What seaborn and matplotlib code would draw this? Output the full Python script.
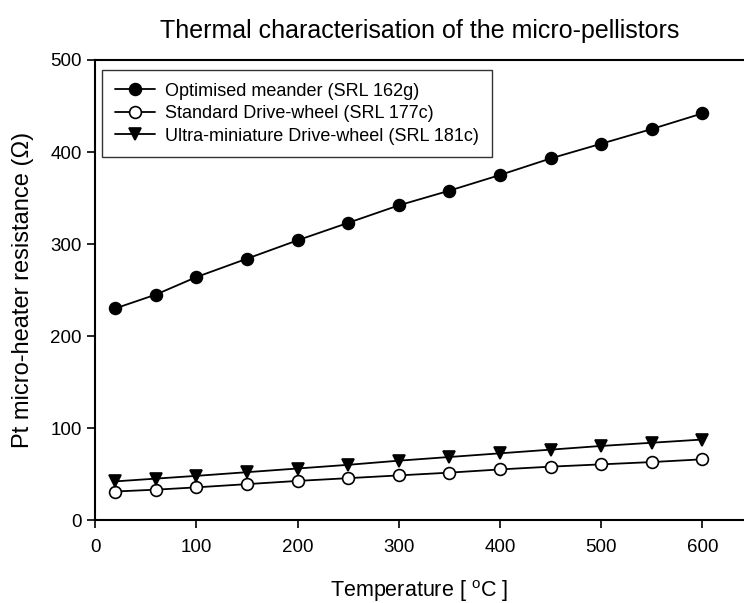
import pandas as pd
import matplotlib
matplotlib.use("Agg")
import matplotlib.pyplot as plt
import seaborn as sns

temperature = [20, 60, 100, 150, 200, 250, 300, 350, 400, 450, 500, 550, 600]
meander = [230, 245, 264, 284, 304, 323, 342, 358, 375, 393, 409, 425, 442]
standard = [31, 33, 35.5, 39, 42.5, 45.5, 48.5, 51.5, 55, 58, 60.5, 63, 66]
ultra = [42, 45, 48, 52, 56, 60, 64.5, 68.5, 72.5, 76.5, 80.5, 84, 87.5]

series_names = [
    "Optimised meander (SRL 162g)",
    "Standard Drive-wheel (SRL 177c)",
    "Ultra-miniature Drive-wheel (SRL 181c)",
]

sns.set_style("ticks")
plt.rcParams["font.family"] = ["Liberation Sans", "DejaVu Sans"]
plt.rcParams["mathtext.fontset"] = "custom"
plt.rcParams["mathtext.rm"] = "Liberation Sans"
plt.rcParams["text.color"] = "black"
plt.rcParams["axes.labelcolor"] = "black"

fig = plt.figure(figsize=(7.44, 6.03), dpi=100)
ax = fig.add_axes([0.1277, 0.1376, 0.8723, 0.7629])

styles = [
    dict(marker="o", markerfacecolor="black"),
    dict(marker="o", markerfacecolor="white"),
    dict(marker="v", markerfacecolor="black"),
]
for name, values, st in zip(series_names, [meander, standard, ultra], styles):
    df = pd.DataFrame({"T": temperature, "R": values})
    sns.lineplot(data=df, x="T", y="R", ax=ax, color="black", linewidth=1.3,
                 markersize=8.5, markeredgecolor="black", markeredgewidth=1.2,
                 label=name, **st)

ax.set_xlim(0, 641)
ax.set_ylim(0, 500)
ax.set_xticks(range(0, 601, 100))
ax.set_yticks(range(0, 501, 100))
ax.tick_params(axis="both", direction="out", length=5.5, width=1.2,
               labelsize=13.5, colors="black")
ax.tick_params(axis="x", pad=8)
ax.tick_params(axis="y", pad=4)
for side in ["left", "bottom", "top"]:
    ax.spines[side].set_linewidth(1.5)
    ax.spines[side].set_color("black")
ax.spines["right"].set_visible(False)

ax.set_xlabel(r"Temperature [ $^{\mathrm{o}}$C ]", fontsize=15.5, labelpad=16,
              color="black")
ax.set_ylabel("Pt micro-heater resistance (Ω)", fontsize=17, labelpad=12,
              color="black")
ax.set_title("Thermal characterisation of the micro-pellistors",
             fontsize=18, pad=16, x=0.5, color="black")

leg = ax.legend(loc="upper left", bbox_to_anchor=(0.011, 0.978), frameon=True,
                fancybox=False, edgecolor="black", fontsize=13,
                handlelength=2.2, borderpad=0.7, labelspacing=0.3,
                handletextpad=0.6, borderaxespad=0)
leg.get_frame().set_linewidth(1.0)
for t in leg.get_texts():
    t.set_color("black")

fig.savefig("out.png", dpi=100)
